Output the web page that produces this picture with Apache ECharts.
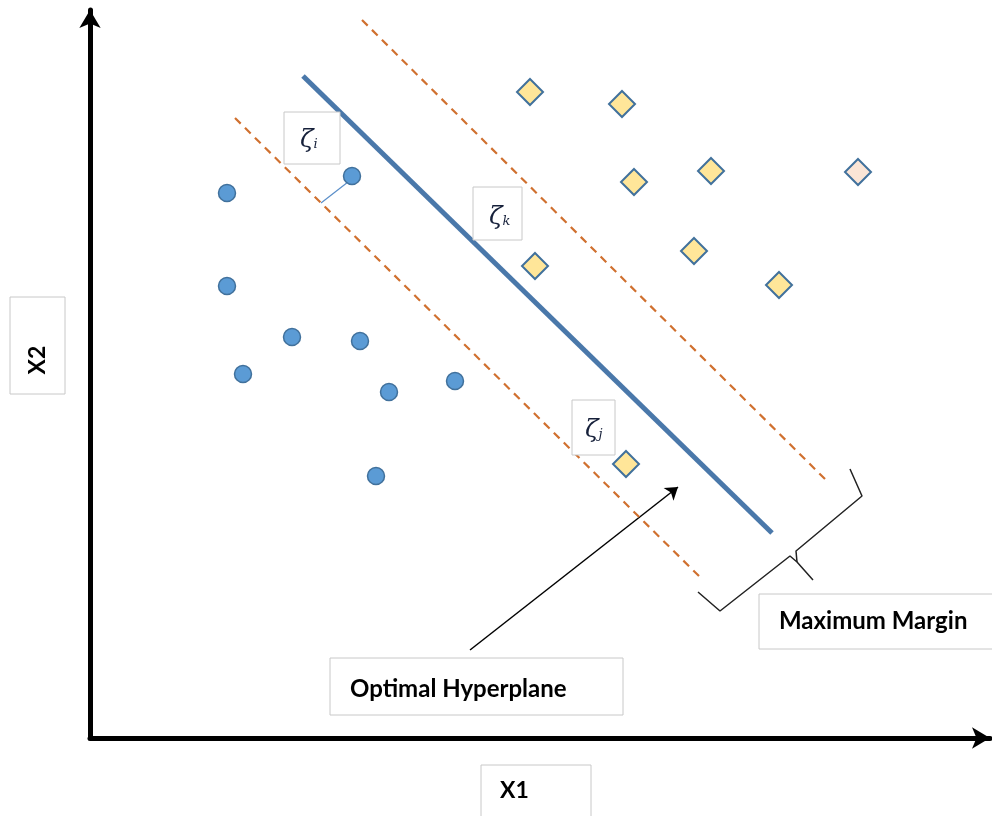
<!DOCTYPE html>
<html><head><meta charset="utf-8">
<script src="https://cdn.jsdelivr.net/npm/echarts@6/dist/echarts.min.js"></script>
<style>html,body{margin:0;padding:0;background:#fff}#c{width:992px;height:816px}</style>
</head><body><div id="c"></div>
<script>
// Class -1 samples (blue circles)
const circlePoints = [[137,545],[262,562],[137,452],[202,401],[270,397],[153,364],[299,346],[365,357],[286,262]];
// Class +1 samples (yellow diamonds)
const diamondPoints = [[440,646],[532,634],[544,556],[621,567],[445,472],[604,487],[689,453],[536,274]];
// Outlier sample (pink diamond)
const outlierPoints = [[768,566]];
// Optimal hyperplane
const hyperplane = [[213,662],[682,205]];
// Margin boundaries
const upperMargin = [[272,718],[738,256]];
const lowerMargin = [[145,620],[613,158]];
// Slack connector for zeta_i
const slackLine = [[231,535],[258,556]];
// Pointer arrow to hyperplane
const pointerArrow = [[380,88],[588,251]];
// Curly brace (maximum margin)
const braceA = [[608,146],[630,127],[700,182],[707,176],[723,158]];
const braceB = [[707,176],[706,187],[772,242],[760,269]];

const chart = echarts.init(document.getElementById('c'));
const fontB = 'Lato, "Open Sans", sans-serif';
function box(x,y,w,h){return {type:'rect',shape:{x:x,y:y,width:w,height:h},style:{fill:'#fff',stroke:'#c8c8c8',lineWidth:1},z:5};}
function zeta(x,y,sub){return {type:'text',x:x,y:y,style:{text:'{a|ζ}{b|'+sub+'}',rich:{a:{fontFamily:'"DejaVu Serif", serif',fontStyle:'italic',fontSize:25,fill:'#16203a'},b:{fontFamily:'"DejaVu Serif", serif',fontStyle:'italic',fontSize:13,fill:'#16203a',padding:[10,0,0,0]}},verticalAlign:'middle'},z:6};}
chart.setOption({
  animation:false,
  grid:{left:90,right:2,top:10,bottom:78},
  xAxis:{type:'value',min:0,max:900,axisLine:{onZero:false,symbol:['none','arrow'],symbolSize:[16,18],lineStyle:{color:'#000',width:5}},axisTick:{show:false},axisLabel:{show:false},splitLine:{show:false}},
  yAxis:{type:'value',min:0,max:728,axisLine:{onZero:false,symbol:['none','arrow'],symbolSize:[16,18],lineStyle:{color:'#000',width:5}},axisTick:{show:false},axisLabel:{show:false},splitLine:{show:false}},
  series:[
    {type:'line',data:upperMargin,symbol:'none',lineStyle:{color:'#d0702f',width:2.2,type:[8,6]}},
    {type:'line',data:lowerMargin,symbol:'none',lineStyle:{color:'#d0702f',width:2.2,type:[8,6]}},
    {type:'line',data:hyperplane,symbol:'none',lineStyle:{color:'#4a78aa',width:5}},
    {type:'line',data:slackLine,symbol:'none',lineStyle:{color:'#5b8fc9',width:1.2}},
    {type:'line',data:braceA,symbol:'none',lineStyle:{color:'#222',width:1.5}},
    {type:'line',data:braceB,symbol:'none',lineStyle:{color:'#222',width:1.5}},
    {type:'lines',coordinateSystem:'cartesian2d',symbol:['none','arrow'],symbolSize:12,lineStyle:{color:'#000',width:1.5,opacity:1},data:[{coords:pointerArrow}]},
    {type:'scatter',data:circlePoints,symbol:'circle',symbolSize:17,itemStyle:{color:'#5b9bd5',borderColor:'#41719c',borderWidth:1.5,opacity:1},z:4},
    {type:'scatter',data:diamondPoints,symbol:'diamond',symbolSize:26,itemStyle:{color:'#ffe699',borderColor:'#41719c',borderWidth:2,opacity:1},z:4},
    {type:'scatter',data:outlierPoints,symbol:'diamond',symbolSize:26,itemStyle:{color:'#fbe5d6',borderColor:'#41719c',borderWidth:2,opacity:1},z:4}
  ],
  graphic:[
    box(284,112,56,52), zeta(300,140,'i'),
    box(473,187,49,53), zeta(489,217,'k'),
    box(572,400,43,55), zeta(585,430,'j'),
    box(330,658,293,57),
    {type:'text',x:350,y:689,style:{text:'Optimal Hyperplane',fontFamily:fontB,fontWeight:'bold',fontSize:24,fill:'#000',verticalAlign:'middle'},z:6},
    box(759,594,240,55),
    {type:'text',x:779,y:621,style:{text:'Maximum Margin',fontFamily:fontB,fontWeight:'bold',fontSize:24,fill:'#000',verticalAlign:'middle'},z:6},
    box(10,297,55,97),
    {type:'text',x:38,y:360,rotation:Math.PI/2,style:{text:'X2',fontFamily:fontB,fontWeight:'bold',fontSize:23,fill:'#000',align:'center',verticalAlign:'middle'},z:6},
    box(481,765,110,60),
    {type:'text',x:500,y:791,style:{text:'X1',fontFamily:fontB,fontWeight:'bold',fontSize:23,fill:'#000',verticalAlign:'middle'},z:6}
  ]
});
</script></body></html>
